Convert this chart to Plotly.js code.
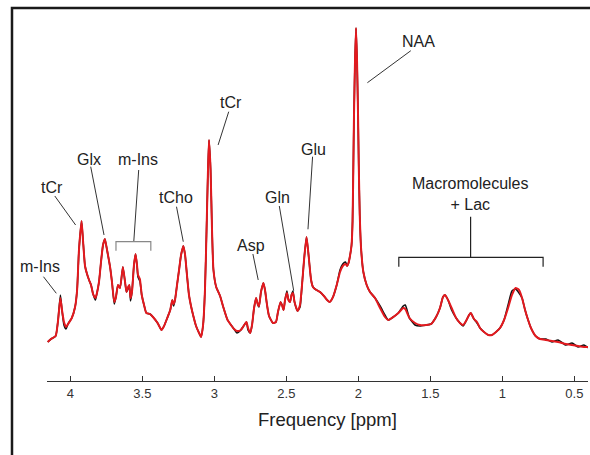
<!DOCTYPE html>
<html>
<head>
<meta charset="utf-8">
<script src="https://cdn.plot.ly/plotly-3.0.1.min.js"></script>
<style>html,body{margin:0;padding:0;background:#fff;}#chart{width:590px;height:455px;}</style>
</head>
<body>
<div id="chart"></div>
<script>
// Chemical shift axis (ppm)
var ppm = [4.157,4.134,4.102,4.085,4.069,4.058,4.044,4.030,4.016,3.990,3.967,3.953,3.940,3.922,3.912,3.898,3.884,3.870,3.856,3.842,
3.826,3.815,3.801,3.787,3.773,3.760,3.745,3.724,3.710,3.695,3.683,3.669,3.655,3.635,3.620,3.610,3.599,3.590,3.582,3.572,
3.558,3.547,3.537,3.530,3.517,3.504,3.488,3.472,3.447,3.426,3.394,3.367,3.349,3.327,3.306,3.292,3.283,3.273,3.259,3.245,
3.231,3.215,3.203,3.190,3.176,3.162,3.144,3.127,3.106,3.092,3.078,3.065,3.054,3.044,3.037,3.026,3.016,3.006,2.987,2.960,
2.940,2.908,2.884,2.863,2.843,2.816,2.801,2.777,2.766,2.751,2.738,2.724,2.710,2.697,2.690,2.676,2.659,2.648,2.634,2.620,
2.593,2.572,2.558,2.540,2.530,2.519,2.509,2.496,2.485,2.474,2.464,2.454,2.443,2.422,2.405,2.391,2.377,2.360,2.349,2.339,
2.328,2.315,2.291,2.266,2.239,2.217,2.199,2.176,2.150,2.127,2.108,2.089,2.078,2.068,2.058,2.047,2.040,2.035,2.030,2.023,
2.016,2.009,2.002,1.997,1.990,1.981,1.965,1.942,1.919,1.884,1.849,1.815,1.792,1.757,1.722,1.688,1.674,1.645,1.606,1.572,
1.530,1.495,1.460,1.433,1.412,1.398,1.377,1.352,1.321,1.294,1.273,1.252,1.231,1.219,1.197,1.176,1.155,1.127,1.097,1.072,
1.044,1.016,0.988,0.960,0.933,0.908,0.884,0.863,0.842,0.821,0.801,0.769,0.738,0.697,0.655,0.613,0.559,0.516,0.474,0.433,0.401];

// Measured spectrum (black), arbitrary units
var measured = [39,42,45,61,86,71,56,52,57,63,74,91,131,160,141,115,107,101,96,87,
81,88,99,119,136,142,131,114,98,77,84,96,93,114,99,89,92,96,80,89,
116,127,116,104,100,86,76,68,67,64,58,51,55,63,71,81,75,81,96,111,
126,135,126,106,86,75,64,55,48,44,56,91,151,211,241,211,151,111,94,85,
75,61,56,52,48,51,54,59,51,48,56,73,83,76,74,89,98,91,76,65,
58,59,69,79,76,71,81,90,81,79,86,90,79,70,74,96,121,144,131,116,
101,94,91,89,85,81,79,84,96,111,117,119,115,118,125,136,160,210,266,320,
353,320,266,216,166,133,109,96,89,83,75,66,61,64,68,75,76,63,56,55,
56,57,64,73,84,86,81,71,63,58,55,60,66,68,62,58,53,49,46,46,
49,53,61,76,90,92,88,83,71,61,53,45,42,42,39,41,36,38,34,36,33];

// Model fit (red), arbitrary units
var fitted = [39,42,45,61,83,71,59,54,57,63,74,91,131,160,141,115,107,101,96,87,
83,88,99,119,136,142,131,114,98,79,84,96,93,114,99,89,94,96,83,89,
116,127,116,106,102,86,76,68,67,64,58,51,55,63,71,81,77,81,96,111,
126,135,126,106,86,75,64,55,48,44,56,91,151,211,241,211,151,111,94,85,
75,61,56,52,50,51,54,59,53,48,56,73,83,76,75,89,98,91,76,65,
58,59,69,79,76,71,81,88,81,79,86,88,79,70,76,96,121,144,131,116,
101,94,91,89,85,81,79,84,96,109,115,117,115,118,125,136,160,210,266,320,
353,320,266,216,166,133,109,96,89,83,73,64,61,64,68,73,72,63,58,56,
56,57,64,73,84,86,81,73,63,58,56,60,66,68,62,59,53,49,46,46,
49,53,61,73,86,93,91,83,71,61,53,45,42,41,40,39,37,36,35,34,34];

var tickVals = [4, 3.5, 3, 2.5, 2, 1.5, 1, 0.5];
var tickText = ['4', '3.5', '3', '2.5', '2', '1.5', '1', '0.5'];
var xTitle = 'Frequency [ppm]';

// Peak labels: [text, textX, textY, lineX0, lineY0, lineX1, lineY1] in paper units
var peakLabels = [
  ['NAA', 0.6865, 0.9425, 0.6725, 0.9175, 0.5922, 0.8286],
  ['tCr', 0.3394, 0.7731, 0.3359, 0.7481, 0.3163, 0.6556],
  ['Glu', 0.4922, 0.6444, 0.4909, 0.6231, 0.4824, 0.4214],
  ['Gln', 0.4259, 0.5103, 0.4294, 0.4861, 0.4560, 0.2508],
  ['Asp', 0.3778, 0.3758, 0.3806, 0.3528, 0.3904, 0.2806],
  ['tCho', 0.2381, 0.5103, 0.2394, 0.4842, 0.2519, 0.3869],
  ['m-Ins', 0.1682, 0.6158, 0.1695, 0.5861, 0.1604, 0.3869],
  ['Glx', 0.0774, 0.6158, 0.0808, 0.5953, 0.1054, 0.4056],
  ['tCr', 0.0089, 0.5369, 0.0144, 0.5139, 0.0529, 0.4333],
  ['m-Ins', -0.0135, 0.3175, -0.0065, 0.2897, 0.0172, 0.2436]
];

var font = 'Liberation Sans, Arial, sans-serif';
var annotations = [];
var shapes = [];
peakLabels.forEach(function (p) {
  annotations.push({text: p[0], x: p[1], y: p[2], xref: 'paper', yref: 'paper',
    xanchor: 'center', yanchor: 'middle', showarrow: false,
    font: {family: font, size: 16, color: '#222'}});
  shapes.push({type: 'line', xref: 'paper', yref: 'paper', x0: p[3], y0: p[4], x1: p[5], y1: p[6],
    line: {color: '#333', width: 1}});
});
annotations.push({text: 'Macromolecules<br>+ Lac', x: 0.7810, y: 0.5190, xref: 'paper', yref: 'paper',
  xanchor: 'center', yanchor: 'middle', showarrow: false, align: 'center',
  font: {family: font, size: 16, color: '#222'}});
// axis title, centred as in the original figure
annotations.push({text: xTitle, x: 0.5194, y: -0.1056, xref: 'paper', yref: 'paper',
  xanchor: 'center', yanchor: 'middle', showarrow: false,
  font: {family: font, size: 18.5, color: '#222'}});
// Macromolecules bracket
shapes.push({type: 'path', xref: 'paper', yref: 'paper',
  path: 'M 0.6503 0.3175 L 0.6503 0.3436 L 0.9170 0.3436 L 0.9170 0.3175',
  line: {color: '#222', width: 1.2}});
shapes.push({type: 'line', xref: 'paper', yref: 'paper', x0: 0.7830, y0: 0.4564, x1: 0.7830, y1: 0.3436,
  line: {color: '#222', width: 1.2}});
// m-Ins bracket
shapes.push({type: 'path', xref: 'paper', yref: 'paper',
  path: 'M 0.1275 0.3619 L 0.1275 0.3869 L 0.1919 0.3869 L 0.1919 0.3619',
  line: {color: '#888', width: 1.2}});
// outer frame (top and left)
shapes.push({type: 'path', xref: 'paper', yref: 'paper',
  path: 'M -0.0647 -0.25 L -0.0647 1.0360 L 1.05 1.0360',
  line: {color: '#1a1a1a', width: 2.5}});

var traces = [
  {x: ppm, y: measured, type: 'scatter', mode: 'lines', name: 'measured',
   line: {color: '#111', width: 1.6, shape: 'spline', smoothing: 0.5}, hoverinfo: 'skip'},
  {x: ppm, y: fitted, type: 'scatter', mode: 'lines', name: 'fit',
   line: {color: '#e3191e', width: 2, shape: 'spline', smoothing: 0.5}, hoverinfo: 'skip'}
];

var layout = {
  width: 590, height: 455,
  margin: {l: 47, r: 2, t: 21, b: 74},
  paper_bgcolor: '#fff', plot_bgcolor: '#fff',
  showlegend: false,
  xaxis: {
    range: [4.162, 0.405], tickvals: tickVals, ticktext: tickText,
    ticks: 'inside', ticklen: 5, tickwidth: 1, tickcolor: '#333',
    showline: true, linecolor: '#333', linewidth: 1.3,
    showgrid: false, zeroline: false,
    tickfont: {family: font, size: 13, color: '#333'}
  },
  yaxis: {range: [0, 360], visible: false, showgrid: false, zeroline: false},
  annotations: annotations,
  shapes: shapes
};

Plotly.newPlot('chart', traces, layout, {displayModeBar: false, staticPlot: true});
</script>
</body>
</html>
